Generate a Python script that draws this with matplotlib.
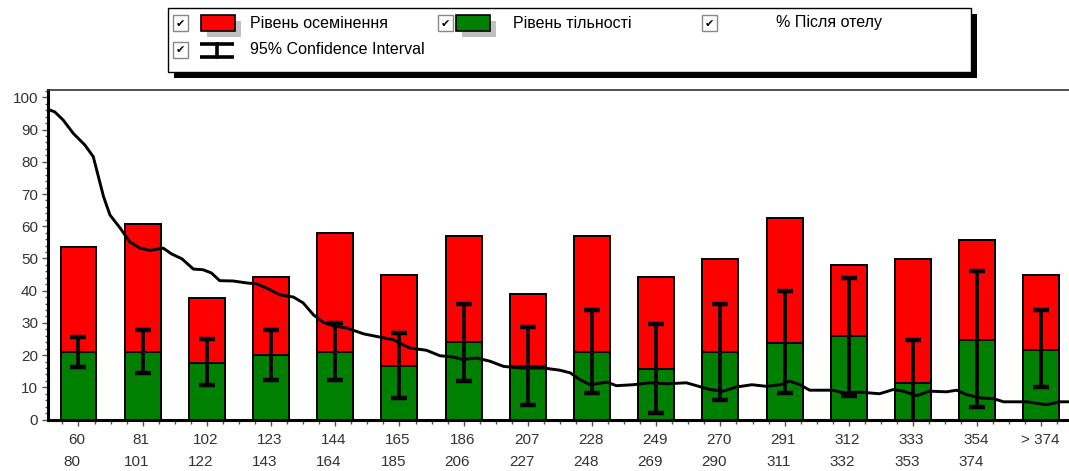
import matplotlib.pyplot as plt
from matplotlib.patches import Rectangle
from matplotlib.ticker import MultipleLocator

plt.rcParams['font.family'] = ['Liberation Sans', 'DejaVu Sans']

# Data
labels_top = ['60', '81', '102', '123', '144', '165', '186', '207', '228', '249',
              '270', '291', '312', '333', '354', '> 374']
labels_bottom = ['80', '101', '122', '143', '164', '185', '206', '227', '248', '269',
                 '290', '311', '332', '353', '374', '']
insem_rate = [53.6, 60.8, 37.8, 44.2, 58.0, 45.0, 57.1, 38.9, 57.1, 44.2,
              49.8, 62.7, 48.0, 49.8, 55.6, 44.9]
preg_rate = [20.9, 20.9, 17.5, 20.1, 20.9, 16.5, 24.0, 16.5, 21.0, 15.7,
             21.0, 23.8, 25.8, 11.2, 24.8, 21.7]
ci_low = [16.3, 14.5, 10.6, 12.4, 12.4, 6.7, 11.9, 4.6, 8.3, 2.1,
          6.2, 8.3, 7.4, -3.0, 3.9, 10.0]
ci_high = [25.7, 27.9, 25.0, 27.9, 30.0, 26.9, 35.9, 28.7, 34.1, 29.7,
           35.9, 39.8, 43.9, 24.8, 46.0, 33.9]

# % after calving curve (x in bar-index units)
curve_x = [-0.48, -0.37, -0.24, -0.08, 0.10, 0.23, 0.31, 0.39, 0.49, 0.65, 0.80, 0.96,
           1.11, 1.32, 1.45, 1.61, 1.79, 1.94, 2.07, 2.20, 2.41, 2.62, 2.78, 2.93,
           3.14, 3.35, 3.50, 3.66, 3.81, 3.97, 4.18, 4.44, 4.59, 4.90, 5.16, 5.42,
           5.63, 5.84, 5.99, 6.20, 6.41, 6.62, 6.88, 7.24, 7.50, 7.66, 7.81, 7.97,
           8.23, 8.38, 8.64, 8.90, 9.16, 9.47, 9.68, 9.84, 10.04, 10.25, 10.49, 10.72,
           10.93, 11.08, 11.24, 11.39, 11.76, 11.91, 12.17, 12.48, 12.69, 12.85, 13.06,
           13.26, 13.52, 13.68, 13.84, 14.05, 14.25, 14.41, 14.77, 15.08, 15.29, 15.42]
curve_y = [96.3, 95.5, 93.0, 88.8, 85.2, 81.6, 75.4, 69.2, 63.5, 59.4, 55.1, 53.2,
           52.5, 53.2, 51.4, 49.9, 46.7, 46.5, 45.5, 43.1, 43.0, 42.4, 42.1, 40.8,
           38.7, 38.0, 36.2, 32.5, 30.2, 29.1, 28.4, 26.6, 26.0, 24.8, 22.2, 21.5,
           19.8, 19.4, 18.6, 19.1, 18.1, 16.5, 16.0, 16.0, 15.3, 14.5, 12.4, 10.8,
           11.6, 10.5, 10.8, 11.4, 11.1, 11.4, 10.2, 9.3, 8.8, 10.1, 10.8, 10.3,
           10.8, 11.9, 10.8, 9.1, 9.1, 8.3, 8.5, 8.0, 9.3, 8.8, 7.4,
           8.8, 8.6, 9.1, 7.7, 6.7, 6.5, 5.5, 5.5, 4.6, 5.5, 5.5]

x = list(range(len(labels_top)))

fig = plt.figure(figsize=(10.69, 4.71), dpi=100)
ax = fig.add_axes([0.0446, 0.1093, 0.9554, 0.699])

# Bars
ax.bar(x, insem_rate, width=0.56, color='#ff0000', edgecolor='black', linewidth=1.4, zorder=2)
ax.bar(x, preg_rate, width=0.56, color='#008000', edgecolor='black', linewidth=1.4, zorder=3)

# Curve
ax.plot(curve_x, curve_y, color='black', linewidth=2.1, zorder=4)

# Confidence intervals
mid = [(lo + hi) / 2 for lo, hi in zip(ci_low, ci_high)]
err = [(hi - lo) / 2 for lo, hi in zip(ci_low, ci_high)]
ax.errorbar(x, mid, yerr=err, fmt='none', ecolor='black', elinewidth=2.7,
            capsize=5.5, capthick=3.2, zorder=5)

ax.set_xlim(-0.48, 15.43)
ax.set_ylim(0, 102.2)

# Spines
ax.spines['right'].set_visible(False)
ax.spines['top'].set_linewidth(1.2)
ax.spines['top'].set_color('#333333')
ax.spines['left'].set_linewidth(2.2)
ax.spines['bottom'].set_linewidth(2.2)

# Ticks
ax.yaxis.set_major_locator(MultipleLocator(10))
ax.yaxis.set_minor_locator(MultipleLocator(2))
ax.tick_params(axis='y', which='major', length=4.5, width=1, color='#555555',
               labelsize=11, labelcolor='#333333', pad=2.5)
ax.tick_params(axis='y', which='minor', length=2.5, width=1, color='#555555')
ax.set_xticks(x)
ax.xaxis.set_minor_locator(MultipleLocator(0.25))
ax.tick_params(axis='x', which='major', length=4.5, width=1, color='#555555', labelbottom=False)
ax.tick_params(axis='x', which='minor', length=3, width=1, color='#555555')

# Two-row x labels
for i in x:
    ax.annotate(labels_top[i], xy=(i, 0), xycoords=('data', 'axes fraction'),
                xytext=(-1, -15), textcoords='offset points',
                ha='center', va='center', fontsize=11, color='#333333')
    ax.annotate(labels_bottom[i], xy=(i, 0), xycoords=('data', 'axes fraction'),
                xytext=(-4.5, -30.5), textcoords='offset points',
                ha='center', va='center', fontsize=11, color='#333333')

# Legend panel (pixel coordinates)
lax = fig.add_axes([0, 0, 1, 1], zorder=10)
lax.set_xlim(0, 1069)
lax.set_ylim(471, 0)
lax.axis('off')
lax.patch.set_alpha(0)

lax.add_patch(Rectangle((174, 14), 803, 64, facecolor='black', edgecolor='none'))
lax.add_patch(Rectangle((168, 8), 803, 64, facecolor='white', edgecolor='black', linewidth=1))


def checkbox(x0, y0):
    lax.add_patch(Rectangle((x0, y0), 15, 16, facecolor='white', edgecolor='#888888', linewidth=1))
    lax.text(x0 + 7.5, y0 + 8.5, '\u2714', ha='center', va='center', fontsize=8,
             family=['DejaVu Sans'], color='black')


def swatch(x0, y0, color):
    lax.add_patch(Rectangle((x0 + 6, y0 + 6), 34, 16, facecolor='#c0c0c0', edgecolor='none'))
    lax.add_patch(Rectangle((x0, y0), 34, 16, facecolor=color, edgecolor='black', linewidth=1.2))


checkbox(173, 15)
swatch(201, 15, '#ff0000')
lax.text(250, 23, 'Рівень осемінення', ha='left', va='center', fontsize=11.5)

checkbox(438, 15)
swatch(456, 15, '#008000')
lax.text(513, 23, 'Рівень тільності', ha='left', va='center', fontsize=11.5)

checkbox(702, 15)
lax.text(776, 23, '% Після отелу', ha='left', va='center', fontsize=11.5)

checkbox(173, 42)
lax.plot([200, 234], [44, 44], color='black', linewidth=2.6, solid_capstyle='butt')
lax.plot([200, 234], [57, 57], color='black', linewidth=2.6, solid_capstyle='butt')
lax.plot([217, 217], [44, 57], color='black', linewidth=2.6)
lax.text(250, 50, '95% Confidence Interval', ha='left', va='center', fontsize=11.5)

fig.savefig('out.png', dpi=100)
